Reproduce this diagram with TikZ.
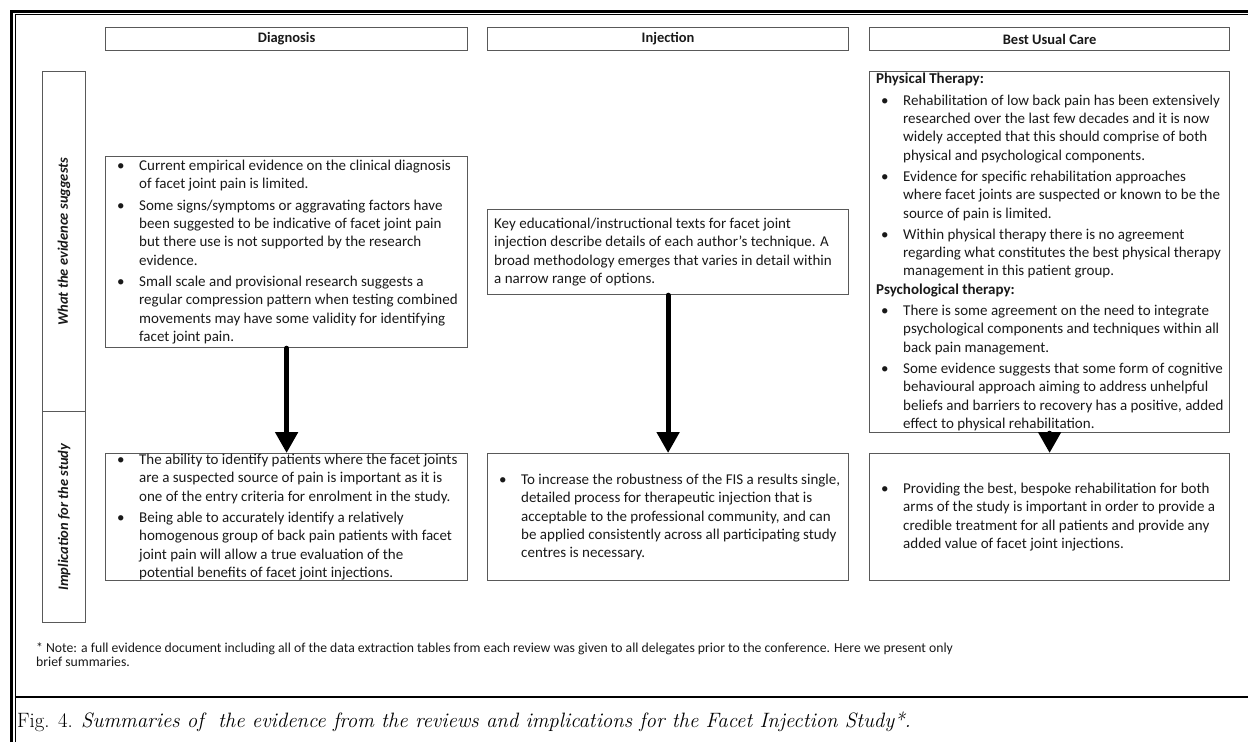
\documentclass[tikz,border=0pt]{standalone}
\usepackage{fontspec}
\newfontfamily\calfam{Carlito}
\usetikzlibrary{arrows.meta}
\newcommand\bodyfont{\calfam\fontsize{15}{18.3}\selectfont}
\newcommand\hdrfont{\calfam\bfseries\fontsize{14.5}{17}\selectfont}
\newcommand\sidefont{\calfam\bfseries\itshape\fontsize{14.5}{17}\selectfont}
\newcommand\notefont{\calfam\fontsize{13.7}{13.5}\selectfont}
\newcommand\bfirst[1]{\makebox[27pt][l]{\hspace{5pt}\textbullet}#1}
\newcommand\bcont[1]{\hspace*{27pt}#1}
\tikzset{
  box/.style={draw=black!65, line width=1.2pt, inner sep=0pt, anchor=north west},
  hdr/.style={box, font=\hdrfont, text=black!90},
  side/.style={box, font=\sidefont, text=black!90},
  txt/.style={anchor=west, align=left, inner sep=0pt, font=\bodyfont, text=black!90},
  arr/.style={line width=5pt, line cap=round, -{Triangle[length=21pt,width=22pt]}},
}
\begin{document}
\begin{tikzpicture}[x=1pt,y=-1pt]
\useasboundingbox (0,0) rectangle (1248,742);
% frame
\draw[line width=2.6pt] (11.7,742) -- (11.7,11.3) -- (1248,11.3);
\draw[line width=1pt] (15.5,742) -- (15.5,14.8) -- (1248,14.8);
\draw[line width=2.8pt] (15.5,697) -- (1248,697);
% headers
\node[hdr, minimum width=362pt, minimum height=23pt] (h1) at (105,27) {Diagnosis};
\node[hdr, minimum width=361pt, minimum height=23pt] (h2) at (487,27) {Injection};
\node[hdr, minimum width=360pt, minimum height=23pt] (h3) at (869,27) {Best Usual Care};
% side labels
\node[side, minimum width=43pt, minimum height=340pt] (l1) at (42,71) {};
\node[rotate=90, font=\sidefont, text=black!90] (l1t) at (l1.center) {What the evidence suggests};
\node[side, minimum width=43pt, minimum height=211pt] (l2) at (42,411) {};
\node[rotate=90, font=\sidefont, text=black!90] (l2t) at (l2.center) {Implication for the study};
% top boxes
\node[box, minimum width=362pt, minimum height=191pt] (d1) at (105,156) {};
\node[txt] (d1t) at ([xshift=7pt]d1.west) {%
\bfirst{Current empirical evidence on the clinical diagnosis}\\
\bcont{of facet joint pain is limited.}\\[3pt]
\bfirst{Some signs/symptoms or aggravating factors have}\\
\bcont{been suggested to be indicative of facet joint pain}\\
\bcont{but there use is not supported by the research}\\
\bcont{evidence.}\\[3pt]
\bfirst{Small scale and provisional research suggests a}\\
\bcont{regular compression pattern when testing combined}\\
\bcont{movements may have some validity for identifying}\\
\bcont{facet joint pain.}};
\node[box, minimum width=361pt, minimum height=85pt] (i1) at (487,209) {};
\node[txt] (i1t) at ([xshift=7pt]i1.west) {%
Key educational/instructional texts for facet joint\\
injection describe details of each author’s technique. A\\
broad methodology emerges that varies in detail within\\
a narrow range of options.};
\node[box, minimum width=360pt, minimum height=361pt] (b1) at (869,71) {};
\node[txt] (b1t) at ([xshift=7pt]b1.west) {%
\textbf{Physical Therapy:}\\[3pt]
\bfirst{Rehabilitation of low back pain has been extensively}\\
\bcont{researched over the last few decades and it is now}\\
\bcont{widely accepted that this should comprise of both}\\
\bcont{physical and psychological components.}\\[3pt]
\bfirst{Evidence for specific rehabilitation approaches}\\
\bcont{where facet joints are suspected or known to be the}\\
\bcont{source of pain is limited.}\\[3pt]
\bfirst{Within physical therapy there is no agreement}\\
\bcont{regarding what constitutes the best physical therapy}\\
\bcont{management in this patient group.}\\
\textbf{Psychological therapy:}\\[3pt]
\bfirst{There is some agreement on the need to integrate}\\
\bcont{psychological components and techniques within all}\\
\bcont{back pain management.}\\[3pt]
\bfirst{Some evidence suggests that some form of cognitive}\\
\bcont{behavioural approach aiming to address unhelpful}\\
\bcont{beliefs and barriers to recovery has a positive, added}\\
\bcont{effect to physical rehabilitation.}};
% bottom boxes
\node[box, minimum width=362pt, minimum height=127pt] (d2) at (105,453) {};
\node[txt] (d2t) at ([xshift=7pt]d2.west) {%
\bfirst{The ability to identify patients where the facet joints}\\
\bcont{are a suspected source of pain is important as it is}\\
\bcont{one of the entry criteria for enrolment in the study.}\\[3pt]
\bfirst{Being able to accurately identify a relatively}\\
\bcont{homogenous group of back pain patients with facet}\\
\bcont{joint pain will allow a true evaluation of the}\\
\bcont{potential benefits of facet joint injections.}};
\node[box, minimum width=361pt, minimum height=127pt] (i2) at (487,453) {};
\node[txt] (i2t) at ([xshift=7pt]i2.west) {%
\bfirst{To increase the robustness of the FIS a results single,}\\
\bcont{detailed process for therapeutic injection that is}\\
\bcont{acceptable to the professional community, and can}\\
\bcont{be applied consistently across all participating study}\\
\bcont{centres is necessary.}};
\node[box, minimum width=360pt, minimum height=127pt] (b2) at (869,453) {};
\node[txt] (b2t) at ([xshift=7pt]b2.west) {%
\bfirst{Providing the best, bespoke rehabilitation for both}\\
\bcont{arms of the study is important in order to provide a}\\
\bcont{credible treatment for all patients and provide any}\\
\bcont{added value of facet joint injections.}};
% arrows
\draw[arr] (d1.south) -- (d2.north);
\draw[arr] (i1.south) -- (i2.north);
\draw[arr] (b1.south) -- (b2.north);
% note and caption
\node[anchor=north west, align=left, inner sep=0pt, font=\notefont, text=black!90] (note) at (36,643) {%
* Note: a full evidence document including all of the data extraction tables from each review was given to all delegates prior to the conference. Here we present only\\
brief summaries.};
\node[anchor=west, inner sep=0pt, font=\fontsize{20.8}{23}\selectfont] (cap) at (17,722) {%
Fig. 4. \textit{Summaries of\ \ the evidence from the reviews and implications for the Facet Injection Study*.}};
\end{tikzpicture}
\end{document}
